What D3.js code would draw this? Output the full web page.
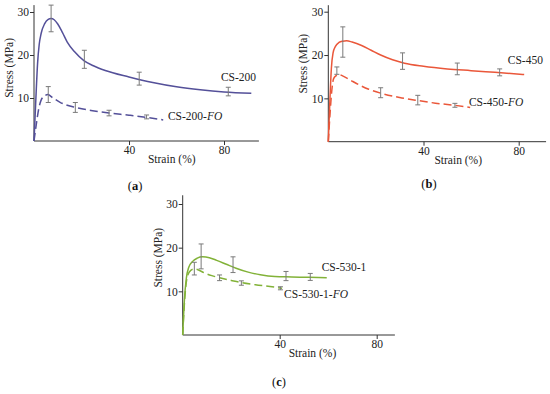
<!DOCTYPE html>
<html lang="en">
<head>
    <meta charset="UTF-8">
    <title>Stress-strain curves</title>
    <style>
        body { margin: 0; background: #fff; }
        svg { display: block; }
        svg text { font-family: "Liberation Serif", "DejaVu Serif", serif; }
        .tick text { font-size: 11.5px; fill: #222; }
        .tick line, .axisLine { stroke: #333; stroke-width: 1; }
        .err { stroke: #7a7a7a; stroke-width: 1; }
    </style>
</head>
<body>
<svg width="550" height="394"></svg>
<script src="https://d3js.org/d3.v7.min.js"></script>
<script>
    // tick labels
    var xTicks = [40, 80];
    var yTicks = [10, 20, 30];

    // (a) CS-200
    var cs200Strain = [0, 0.8, 1.5, 2.2, 3, 4.5, 6, 7.2, 8.5, 10, 12, 14, 17, 21, 25, 30, 40, 50, 60, 70, 80, 91.5];
    var cs200Stress = [0, 10, 18, 22.5, 25, 27.3, 28.3, 28.5, 28.2, 27.2, 25.2, 23, 20.8, 18.7, 17.5, 16.4, 14.9, 13.6, 12.6, 11.9, 11.4, 11.1];
    var cs200ErrX = [7.2, 21.2, 44.3, 81.8];
    var cs200ErrY = [28.5, 19, 14.5, 11.5];
    var cs200ErrSd = [3.1, 2.1, 1.5, 1.0];

    var cs200foStrain = [0, 1, 2, 3, 4.5, 5.8, 8, 11, 14, 17.5, 24, 31.6, 40, 47.4, 54.4];
    var cs200foStress = [0, 4, 7.5, 9.5, 10.5, 10.8, 10, 9, 8.3, 7.8, 7.1, 6.5, 6, 5.5, 4.9];
    var cs200foErrX = [6, 17.4, 31.6, 47.4];
    var cs200foErrY = [10.8, 7.8, 6.5, 5.6];
    var cs200foErrSd = [1.85, 1.15, 0.65, 0.45];

    // (b) CS-450
    var cs450Strain = [0, 0.7, 1.3, 2, 3, 4.5, 6, 7.7, 10, 14, 18, 22, 27, 32, 40, 50, 60, 70, 82.3];
    var cs450Stress = [0, 10, 17, 20.5, 22, 22.9, 23.2, 23.3, 23, 22.2, 21.1, 20, 18.9, 18.1, 17.4, 16.8, 16.4, 16, 15.5];
    var cs450ErrX = [6.1, 31.2, 54.2, 72];
    var cs450ErrY = [23, 18.6, 16.8, 16];
    var cs450ErrSd = [3.5, 1.9, 1.35, 0.8];

    var cs450foStrain = [0, 0.8, 1.5, 2.2, 3.2, 4.5, 6, 9, 13, 17, 22, 30, 37.6, 45, 53.2, 59.6];
    var cs450foStress = [0, 7, 12, 14.5, 15.2, 15.5, 15.2, 14.3, 13.1, 12.1, 11.2, 10.2, 9.5, 8.9, 8.4, 7.9];
    var cs450foErrX = [3.6, 22, 37.6, 53.2];
    var cs450foErrY = [16.4, 11.3, 9.6, 8.4];
    var cs450foErrSd = [0.85, 1.15, 1.1, 0.45];

    // (c) CS-530-1
    var cs530Strain = [0, 0.7, 1.5, 2.5, 4, 6, 8.2, 11, 14, 18, 22, 27, 32, 38, 45, 52, 59.4];
    var cs530Stress = [0, 8, 13, 15.5, 16.8, 17.6, 17.9, 17.7, 17.1, 16.2, 15.3, 14.4, 13.8, 13.4, 13.3, 13.2, 13.1];
    var cs530ErrX = [7.6, 20.75, 42.6, 52.6];
    var cs530ErrY = [18, 16.1, 13.5, 13.3];
    var cs530ErrSd = [2.85, 1.8, 1.05, 0.8];

    var cs530foStrain = [0, 0.8, 1.6, 2.8, 4.5, 6, 9, 12, 15.2, 20, 24.2, 30, 36, 41];
    var cs530foStress = [0, 8, 12.5, 14.5, 15.1, 15, 14.2, 13.6, 13.1, 12.5, 12, 11.5, 11.1, 10.7];
    var cs530foErrX = [4.8, 15.2, 24.2, 40.3];
    var cs530foErrY = [15.2, 13.1, 11.9, 10.7];
    var cs530foErrSd = [1.45, 0.65, 0.5, 0.35];

    var svg = d3.select("svg");
    var serif = "Liberation Serif, DejaVu Serif, serif";

    function zip(xs, ys) {
        return xs.map(function (x, i) { return [x, ys[i]]; });
    }

    function drawPanel(p) {
        var x = d3.scaleLinear().domain([0, 80]).range([p.x0, p.x80]);
        var y = d3.scaleLinear().domain([0, 30]).range([p.y0, p.y30]);
        var g = svg.append("g").attr("font-family", serif);

        // axis lines
        g.append("line").attr("class", "axisLine")
            .attr("x1", x(0)).attr("x2", x(p.xMax))
            .attr("y1", y(0)).attr("y2", y(0));
        g.append("line").attr("class", "axisLine")
            .attr("x1", x(0)).attr("x2", x(0))
            .attr("y1", y(0)).attr("y2", y(p.yMax));

        var xAxis = d3.axisBottom(x).tickValues(xTicks).tickSize(4).tickPadding(1);
        g.append("g").attr("transform", "translate(0," + y(0) + ")").call(xAxis)
            .call(function (s) { s.select(".domain").remove(); })
            .attr("font-family", serif).attr("font-size", null);
        var yAxis = d3.axisLeft(y).tickValues(yTicks).tickSize(4).tickPadding(1);
        g.append("g").attr("transform", "translate(" + x(0) + ",0)").call(yAxis)
            .call(function (s) { s.select(".domain").remove(); })
            .attr("font-family", serif).attr("font-size", null);

        g.append("text")
            .attr("x", x(p.xTitle)).attr("y", y(0) + 22)
            .attr("text-anchor", "middle").attr("font-size", 11.5).attr("fill", "#222")
            .text("Strain (%)");
        g.append("text")
            .attr("transform", "translate(" + (x(0) - 21) + "," + y(p.yTitle) + ") rotate(-90)")
            .attr("text-anchor", "middle").attr("font-size", 11.5).attr("fill", "#222")
            .text("Stress (MPa)");

        var line = d3.line()
            .x(function (d) { return x(d[0]); })
            .y(function (d) { return y(d[1]); })
            .curve(d3.curveMonotoneX);

        p.series.forEach(function (s) {
            g.append("path")
                .attr("d", line(zip(s.strain, s.stress)))
                .attr("fill", "none")
                .attr("stroke", p.color)
                .attr("stroke-width", 1.5)
                .attr("stroke-dasharray", s.dashed ? "8,4" : null);

            var eb = g.append("g").selectAll("g")
                .data(s.errX.map(function (v, i) { return { x: v, y: s.errY[i], sd: s.errSd[i] }; }))
                .enter().append("g");
            eb.append("line").attr("class", "err")
                .attr("x1", function (d) { return x(d.x); })
                .attr("x2", function (d) { return x(d.x); })
                .attr("y1", function (d) { return y(d.y - d.sd); })
                .attr("y2", function (d) { return y(d.y + d.sd); });
            [-1, 1].forEach(function (k) {
                eb.append("line").attr("class", "err")
                    .attr("x1", function (d) { return x(d.x) - 2.5; })
                    .attr("x2", function (d) { return x(d.x) + 2.5; })
                    .attr("y1", function (d) { return y(d.y + k * d.sd); })
                    .attr("y2", function (d) { return y(d.y + k * d.sd); });
            });

            var t = g.append("text")
                .attr("x", x(s.labelX)).attr("y", y(s.labelY))
                .attr("dy", "0.35em")
                .attr("font-size", 11.5).attr("fill", "#222");
            t.append("tspan").text(s.name + (s.dashed ? "-" : ""));
            if (s.dashed) t.append("tspan").attr("font-style", "italic").text("FO");
        });

        var cap = svg.append("text")
            .attr("x", p.capX).attr("y", p.capY)
            .attr("text-anchor", "middle").attr("dy", "0.35em")
            .attr("font-family", serif)
            .attr("font-size", 12.5).attr("fill", "#111");
        cap.append("tspan").text("(");
        cap.append("tspan").attr("font-weight", "bold").text(p.caption);
        cap.append("tspan").text(")");
    }

    drawPanel({
        x0: 34, x80: 224, y0: 141, y30: 12, xMax: 94.7, yMax: 31.6,
        xTitle: 58, yTitle: 17, color: "#545099", caption: "a", capX: 135, capY: 186,
        series: [
            { name: "CS-200", strain: cs200Strain, stress: cs200Stress, errX: cs200ErrX, errY: cs200ErrY, errSd: cs200ErrSd, labelX: 78.7, labelY: 14.9 },
            { name: "CS-200", dashed: true, strain: cs200foStrain, stress: cs200foStress, errX: cs200foErrX, errY: cs200foErrY, errSd: cs200foErrSd, labelX: 56.4, labelY: 5.8 }
        ]
    });

    drawPanel({
        x0: 328.3, x80: 518.7, y0: 141.7, y30: 11.7, xMax: 91.5, yMax: 31.5,
        xTitle: 54.6, yTitle: 18, color: "#ea573a", caption: "b", capX: 429, capY: 184,
        series: [
            { name: "CS-450", strain: cs450Strain, stress: cs450Stress, errX: cs450ErrX, errY: cs450ErrY, errSd: cs450ErrSd, labelX: 75.4, labelY: 18.9 },
            { name: "CS-450", dashed: true, strain: cs450foStrain, stress: cs450foStress, errX: cs450foErrX, errY: cs450foErrY, errSd: cs450foErrSd, labelX: 59.1, labelY: 9.2 }
        ]
    });

    drawPanel({
        x0: 182.7, x80: 376.7, y0: 335, y30: 204, xMax: 87.5, yMax: 32,
        xTitle: 53.5, yTitle: 17.7, color: "#82b238", caption: "c", capX: 279, capY: 382,
        series: [
            { name: "CS-530-1", strain: cs530Strain, stress: cs530Stress, errX: cs530ErrX, errY: cs530ErrY, errSd: cs530ErrSd, labelX: 57.3, labelY: 15.6 },
            { name: "CS-530-1", dashed: true, strain: cs530foStrain, stress: cs530foStress, errX: cs530foErrX, errY: cs530foErrY, errSd: cs530foErrSd, labelX: 41.8, labelY: 9.4 }
        ]
    });
</script>
</body>
</html>
